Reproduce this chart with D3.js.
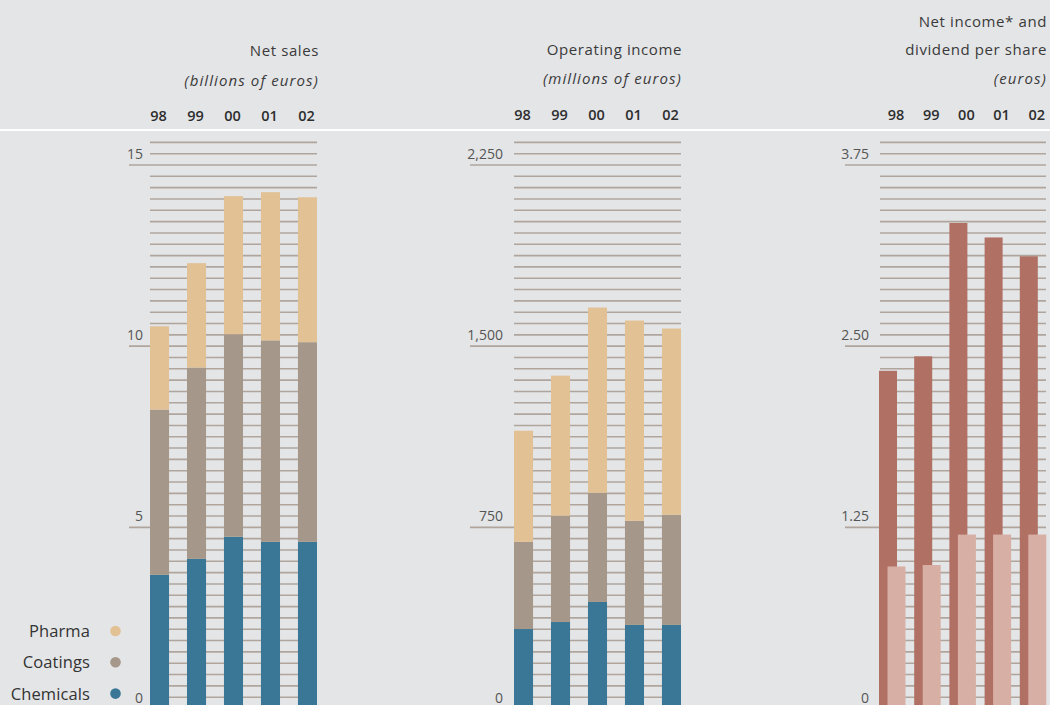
<!DOCTYPE html>
<html><head><meta charset="utf-8">
<script src="https://cdn.jsdelivr.net/npm/d3@7"></script>
<style>
html,body{margin:0;padding:0;background:#e4e5e7;}
svg{display:block;font-family:"Open Sans",sans-serif;}
</style></head>
<body>
<svg id="c" width="1050" height="705"></svg>
<script>
// ---- data ----
const years = ["98","99","00","01","02"];
const segments = ["Chemicals","Coatings","Pharma"];
const salesChemicals = [3.69, 4.13, 4.74, 4.60, 4.60];
const salesCoatings  = [4.56, 5.28, 5.59, 5.56, 5.51];
const salesPharma    = [2.30, 2.88, 3.81, 4.09, 4.00];
const opChemicals = [329, 358, 441, 346, 346];
const opCoatings  = [361, 440, 452, 431, 456];
const opPharma    = [460, 580, 767, 829, 771];
const netIncomePerShare = [2.33, 2.43, 3.35, 3.25, 3.12];
const dividendPerShare  = [0.98, 0.99, 1.20, 1.20, 1.20];
const salesTicks = [0, 5, 10, 15];
const salesTickLabels = ["0","5","10","15"];
const opTicks = [0, 750, 1500, 2250];
const opTickLabels = ["0","750","1,500","2,250"];
const epsTicks = [0, 1.25, 2.5, 3.75];
const epsTickLabels = ["0","1.25","2.50","3.75"];
const legendLabels = ["Pharma","Coatings","Chemicals"];

// ---- styles ----
const colors = {Chemicals:"#3a7797", Coatings:"#a59789", Pharma:"#e2c195"};
const netColor = "#b07064", divColor = "#d8afa5";
const gridColor = "#b0a59c";
const svg = d3.select("#c");

svg.append("rect").attr("width",1050).attr("height",705).attr("fill","#e4e5e7");

function grid(g, y, ticks, labels, x0Minor, x0Major, x1, labelRight) {
  const step = ticks[1] - ticks[0];
  const minor = d3.range(0, ticks.length*16 - 13).map(i => i*step/16);
  g.selectAll("line.minor").data(minor).join("line")
    .attr("x1", (d,i) => (i % 16 === 0) ? x0Major : x0Minor)
    .attr("x2", x1)
    .attr("y1", d => y(d)).attr("y2", d => y(d))
    .attr("stroke", gridColor).attr("stroke-width", 1.6);
  g.selectAll("text.tick").data(ticks).join("text")
    .attr("x", labelRight).attr("y", d => y(d) - 6)
    .attr("text-anchor","end").attr("font-size", 14)
    .attr("fill","#555").text((d,i) => labels[i]);
}

function yScale(max) { return d3.scaleLinear().domain([0, max]).range([708.5, 165]); }

function header(lines, right, yearX, yearBaseline) {
  lines.forEach(l => {
    svg.append("text").attr("x", right).attr("y", l.y).attr("text-anchor","end")
      .attr("font-size", 15).attr("letter-spacing", l.italic ? 1.1 : 0.6)
      .attr("font-style", l.italic ? "italic" : "normal")
      .attr("fill", "#3a3a3a").text(l.t);
  });
  svg.append("g").selectAll("text").data(years).join("text")
    .attr("x", d => yearX(d)).attr("y", yearBaseline).attr("text-anchor","middle")
    .attr("font-size", 14.5).attr("font-weight", 600).attr("fill","#2e2e2e").text(d => d);
}

// separator line
svg.append("line").attr("x1",0).attr("x2",1050).attr("y1",130).attr("y2",130)
  .attr("stroke","#fff").attr("stroke-width",2);

// ---- stacked chart helper ----
function stacked(x, y, series) {
  const rows = years.map((yr,i) => {
    const o = {year: yr};
    segments.forEach((s,k) => o[s] = series[k][i]);
    return o;
  });
  const st = d3.stack().keys(segments)(rows);
  const g = svg.append("g");
  g.selectAll("g").data(st).join("g").attr("fill", d => colors[d.key])
    .selectAll("rect").data(d => d).join("rect")
    .attr("x", d => x(d.data.year)).attr("width", x.bandwidth())
    .attr("y", d => y(d[1])).attr("height", d => y(d[0]) - y(d[1]));
}

// ---- chart 1: net sales ----
const x1 = d3.scaleBand().domain(years).range([150, 317]).paddingInner(0.485).paddingOuter(0);
const y1 = yScale(15);
grid(svg.append("g"), y1, salesTicks, salesTickLabels, 150, 129, 317, 143);
stacked(x1, y1, [salesChemicals, salesCoatings, salesPharma]);
header([{t:"Net sales", y:56}, {t:"(billions of euros)", y:86, italic:true}], 319,
  d => x1(d) + x1.bandwidth()/2 - 1, 121);

// ---- chart 2: operating income ----
const x2 = d3.scaleBand().domain(years).range([514, 681]).paddingInner(0.485).paddingOuter(0);
const y2 = yScale(2250);
grid(svg.append("g"), y2, opTicks, opTickLabels, 514, 470, 681, 503);
stacked(x2, y2, [opChemicals, opCoatings, opPharma]);
header([{t:"Operating income", y:55}, {t:"(millions of euros)", y:84, italic:true}], 682,
  d => x2(d) + x2.bandwidth()/2 - 1, 119.5);

// ---- chart 3: net income & dividend per share ----
const x3 = d3.scaleBand().domain(years).range([879, 1055]);
const y3 = yScale(3.75);
grid(svg.append("g"), y3, epsTicks, epsTickLabels, 880, 845, 1046, 869);
const g3 = svg.append("g");
g3.selectAll("rect.net").data(years).join("rect")
  .attr("x", d => x3(d)).attr("width", 18)
  .attr("y", (d,i) => y3(netIncomePerShare[i]))
  .attr("height", (d,i) => y3(0) - y3(netIncomePerShare[i]))
  .attr("fill", netColor);
g3.selectAll("rect.div").data(years).join("rect")
  .attr("x", d => x3(d) + 8.5).attr("width", 18)
  .attr("y", (d,i) => y3(dividendPerShare[i]))
  .attr("height", (d,i) => y3(0) - y3(dividendPerShare[i]))
  .attr("fill", divColor);
header([{t:"Net income* and", y:26.5}, {t:"dividend per share", y:55}, {t:"(euros)", y:84, italic:true}], 1047,
  d => x3(d) + 17, 119.5);

// ---- legend ----
const lg = svg.append("g");
legendLabels.forEach((l,i) => {
  const yy = 631 + i*31.3;
  lg.append("text").attr("x", 90).attr("y", yy + 6).attr("text-anchor","end")
    .attr("font-size", 16.5).attr("letter-spacing", 0.1).attr("fill","#333").text(l);
  lg.append("circle").attr("cx", 115.5).attr("cy", yy).attr("r", 5.3).attr("fill", colors[l]);
});
</script>
</body></html>
